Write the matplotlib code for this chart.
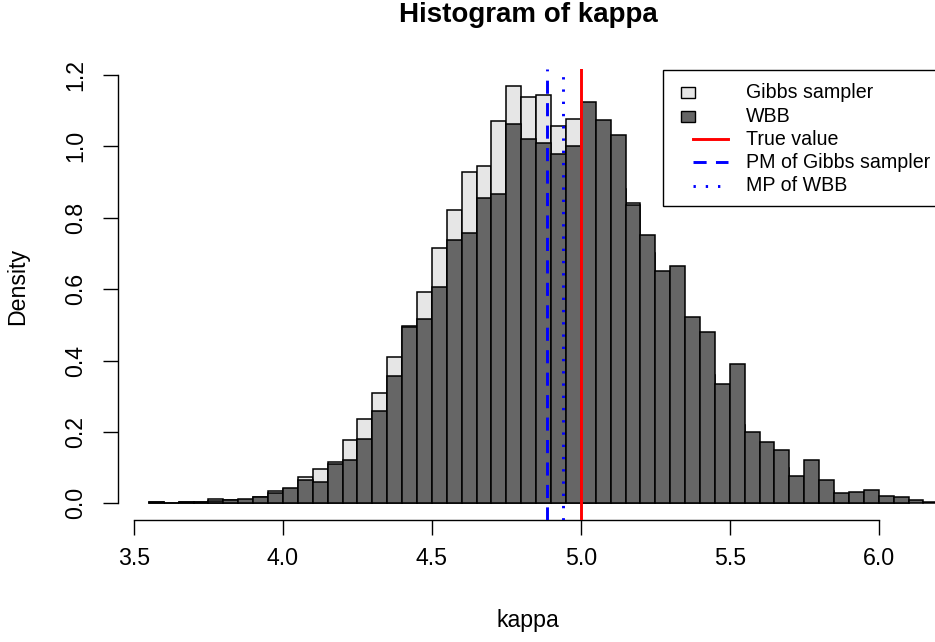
import numpy as np
import matplotlib
matplotlib.use("Agg")
import matplotlib.pyplot as plt
from matplotlib.patches import Rectangle
from matplotlib.lines import Line2D

plt.rcParams['font.family'] = ['Liberation Sans', 'DejaVu Sans']

# ---- data ----
bin_start = 3.55
bin_width = 0.05
gibbs_density = [0.004, 0.002, 0.003, 0.004, 0.011, 0.008, 0.010, 0.018, 0.034,
                 0.040, 0.075, 0.095, 0.116, 0.176, 0.237, 0.310, 0.409, 0.498, 0.591,
                 0.716, 0.822, 0.928, 0.945, 1.071, 1.169, 1.139, 1.145, 1.058, 1.078,
                 1.020, 0.950, 0.880, 0.841, 0.700, 0.600, 0.520, 0.440, 0.360, 0.290,
                 0.220, 0.170, 0.130, 0.100, 0.070, 0.050, 0.035, 0.022, 0.015, 0.010,
                 0.006, 0.003]
wbb_density = [0.005, 0.000, 0.004, 0.004, 0.006, 0.009, 0.011, 0.019, 0.028,
               0.042, 0.064, 0.060, 0.110, 0.121, 0.179, 0.259, 0.356, 0.495, 0.516,
               0.606, 0.738, 0.757, 0.855, 0.866, 1.062, 1.022, 1.010, 0.978, 1.001,
               1.124, 1.073, 1.033, 0.836, 0.751, 0.651, 0.666, 0.523, 0.479, 0.335,
               0.391, 0.201, 0.173, 0.1485, 0.077, 0.121, 0.065, 0.028, 0.033, 0.037,
               0.021, 0.017, 0.009, 0.005]
true_value = 5.0
pm_gibbs = 4.885
mp_wbb = 4.941
x_ticks = [3.5, 4.0, 4.5, 5.0, 5.5, 6.0]
y_ticks = [0.0, 0.2, 0.4, 0.6, 0.8, 1.0, 1.2]
legend_labels = ["Gibbs sampler", "WBB", "True value", "PM of Gibbs sampler", "MP of WBB"]

gibbs_left = bin_start + bin_width * np.arange(len(gibbs_density))
wbb_left = bin_start + bin_width * np.arange(len(wbb_density))

W, H = 935, 642
fig = plt.figure(figsize=(W / 100, H / 100), dpi=100)

def fx(px):
    return px / W

def fy(py):
    return 1 - py / H

ax_l, ax_r, ax_t, ax_b = 118.3, 938.0, 69.0, 519.7
ax = fig.add_axes([fx(ax_l), fy(ax_b), (ax_r - ax_l) / W, (ax_b - ax_t) / H])

ax.bar(gibbs_left, gibbs_density, width=bin_width, align='edge',
       color='#E6E6E6', edgecolor='black', linewidth=1.1, zorder=2)
ax.bar(wbb_left, wbb_density, width=bin_width, align='edge',
       color='#666666', edgecolor='black', linewidth=1.1, zorder=3)

ax.axvline(true_value, color='red', lw=2.1, zorder=4)
ax.axvline(pm_gibbs, color='blue', lw=2.1, linestyle=(0, (4.5, 3.2)), zorder=4)
ax.axvline(mp_wbb, color='blue', lw=2.1, linestyle=(0, (0.8, 3.4)), zorder=4)

ax.set_xlim(3.4473, 6.1989)
ax.set_ylim(-0.04595, 1.2169)

for s in ['top', 'right']:
    ax.spines[s].set_visible(False)
ax.spines['bottom'].set_bounds(x_ticks[0], x_ticks[-1])
ax.spines['left'].set_bounds(y_ticks[0], y_ticks[-1])
for s in ['bottom', 'left']:
    ax.spines[s].set_linewidth(1.0)

ax.set_xticks(x_ticks)
ax.set_xticklabels([f"{v:.1f}" for v in x_ticks])
ax.set_yticks(y_ticks)
ax.set_yticklabels([f"{v:.1f}" for v in y_ticks], rotation=90, va='center')
ax.tick_params(axis='both', length=10.6, width=1.0, labelsize=16.7)
ax.tick_params(axis='x', pad=9)
ax.tick_params(axis='y', pad=12)

fig.text(fx(528), fy(621), "kappa", ha='center', va='center', fontsize=16.7)
fig.text(fx(17.5), fy(286), "Density", ha='center', va='center', rotation=90, fontsize=16.7)
fig.text(fx(528), fy(21.7), "Histogram of kappa", ha='center', va='baseline',
         fontsize=20, fontweight='bold')

# legend (drawn in figure pixel coordinates)
tf = fig.transFigure
fig.patches.append(Rectangle((fx(663), fy(206)), (938 - 663) / W, (206 - 70) / H,
                             transform=tf, facecolor='white', edgecolor='black',
                             linewidth=1.0, zorder=10))
row_y = [92.7, 116.0, 139.2, 162.4, 185.6]
fills = ['#E6E6E6', '#666666']
for i in range(2):
    fig.patches.append(Rectangle((fx(681), fy(row_y[i] + 5.5)), 14 / W, 11 / H,
                                 transform=tf, facecolor=fills[i], edgecolor='black',
                                 linewidth=1.0, zorder=11))
line_styles = [('red', '-'), ('blue', (0, (4.5, 3.2))), ('blue', (0, (0.8, 3.4)))]
for j, (c, ls) in enumerate(line_styles):
    yy = fy(row_y[j + 2])
    fig.lines.append(Line2D([fx(693), fx(728)], [yy, yy], transform=tf, color=c,
                            linestyle=ls, lw=2.1, zorder=11))
for i, lab in enumerate(legend_labels):
    fig.text(fx(746), fy(row_y[i]), lab, ha='left', va='center', fontsize=14.1, zorder=12)

fig.savefig("out.png", dpi=100)
